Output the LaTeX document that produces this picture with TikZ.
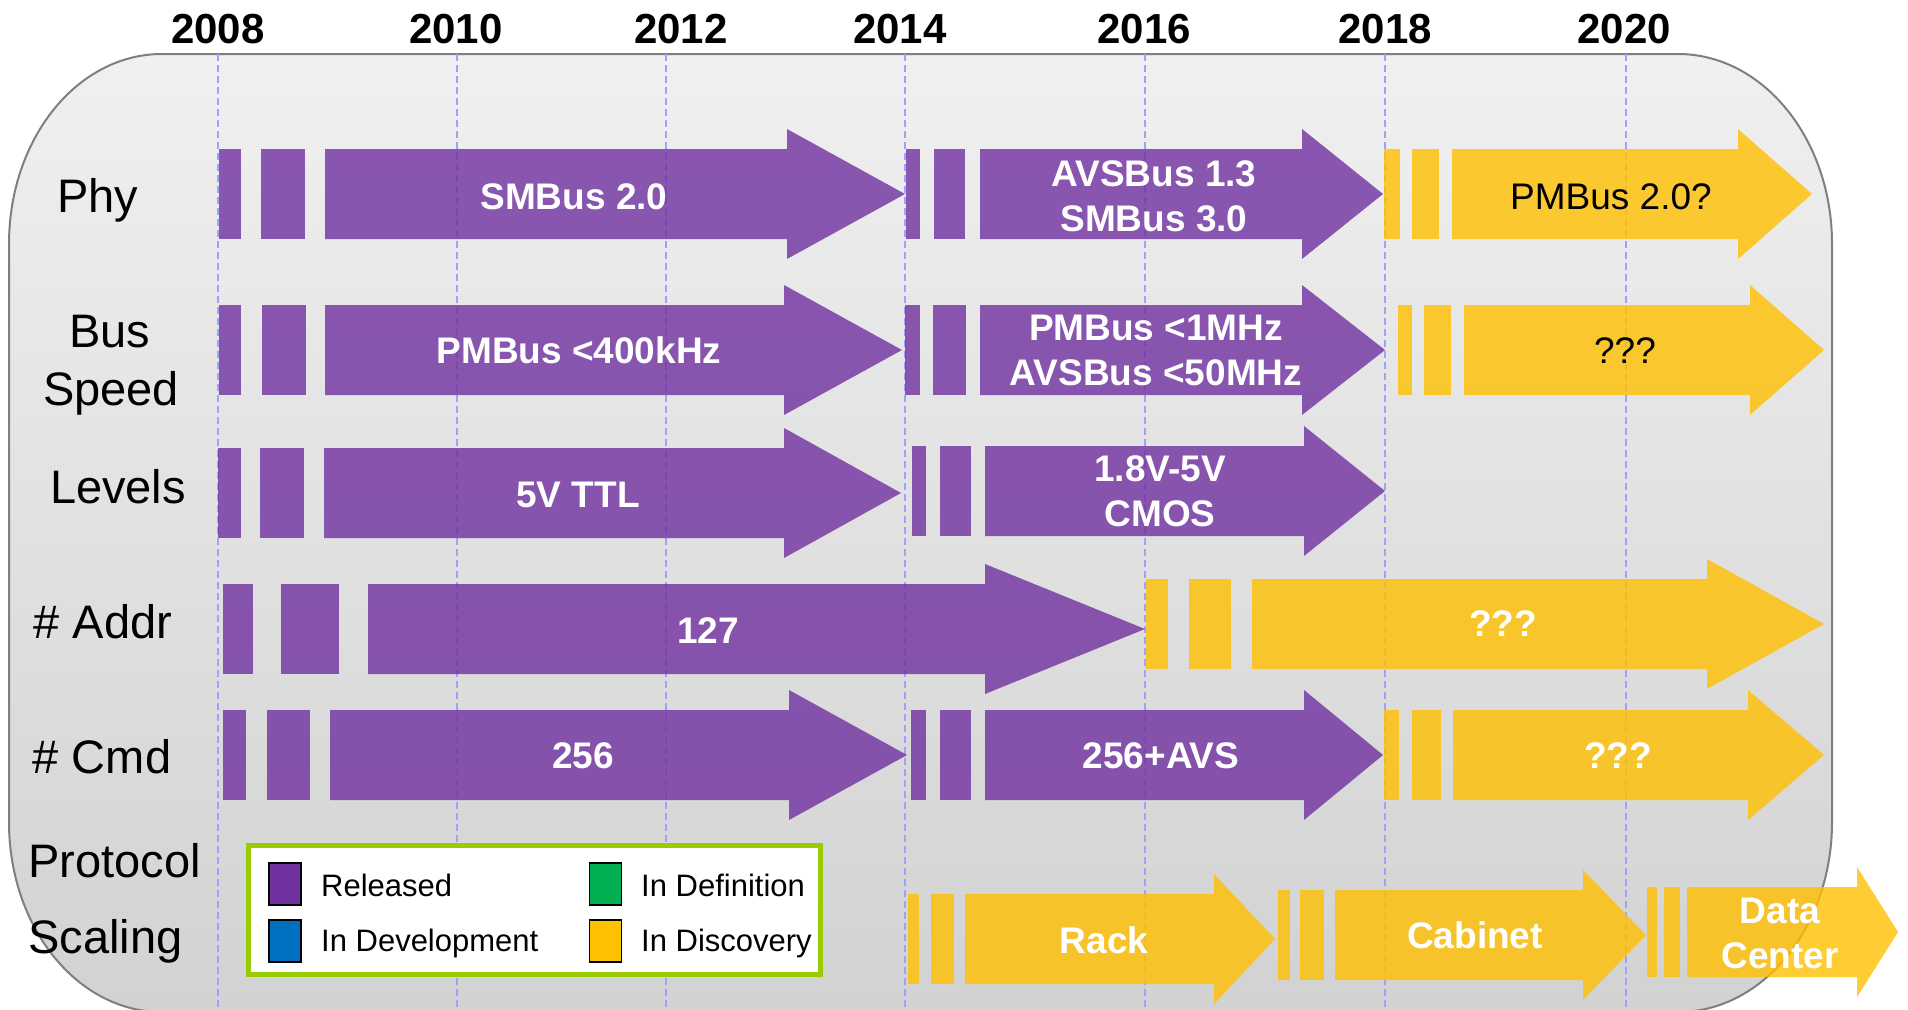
\documentclass[tikz,border=0pt]{standalone}
\usepackage{fontspec}
\setmainfont{Liberation Sans}

\definecolor{relpurple}{HTML}{7030A0}
\definecolor{discyellow}{HTML}{FFC000}
\definecolor{defgreen}{HTML}{00B050}
\definecolor{devblue}{HTML}{0070C0}
\definecolor{legendrim}{HTML}{99CC00}
\definecolor{yearline}{HTML}{A0A0FF}
\definecolor{boxtop}{HTML}{F0F0F0}
\definecolor{boxbottom}{HTML}{D2D2D2}
\definecolor{boxrim}{HTML}{7F7F7F}

\tikzset{
  released/.style={fill=relpurple,fill opacity=0.8},
  discovery/.style={fill=discyellow,fill opacity=0.8},
  yearrule/.style={yearline,line width=1.3pt,dash pattern=on 7pt off 4pt},
  yearlbl/.style={font=\fontsize{42}{50}\selectfont\bfseries,anchor=base,inner sep=0pt},
  rowlbl/.style={font=\fontsize{47}{56}\selectfont,anchor=base,inner sep=0pt},
  bartxt/.style={font=\fontsize{37}{45}\selectfont\bfseries,text=white,inner sep=0pt,align=center},
  plaintxt/.style={font=\fontsize{37}{45}\selectfont,text=black,inner sep=0pt,anchor=base},
  swatch/.style={draw=black,line width=1.5pt,minimum width=32pt,minimum height=42pt,inner sep=0pt},
  legendtxt/.style={font=\fontsize{31}{37}\selectfont,anchor=base west,inner sep=0pt}
}

% style, centre y, bar 1, bar 2, body start, head start, tip
\newcommand{\phasearrow}[9]{%
  \fill[#1] (#3,#2-45) rectangle (#4,#2+45);
  \fill[#1] (#5,#2-45) rectangle (#6,#2+45);
  \fill[#1] (#7,#2-45) -- (#8,#2-45) -- (#8,#2-65) -- (#9,#2)
    -- (#8,#2+65) -- (#8,#2+45) -- (#7,#2+45) -- cycle;
}

\begin{document}
\begin{tikzpicture}[x=1pt,y=-1pt]
  \useasboundingbox (0,0) rectangle (1908,1009);

  % background panel
  \shadedraw[top color=boxtop,bottom color=boxbottom,draw=boxrim,line width=2pt]
    (162,54) -- (1678,54) .. controls (1763,54) and (1832,139) .. (1832,244)
    -- (1832,822) .. controls (1832,927) and (1763,1012) .. (1678,1012)
    -- (162,1012) .. controls (77,1012) and (9,927) .. (9,822)
    -- (9,244) .. controls (9,139) and (77,54) .. (162,54) -- cycle;

  % years
  \foreach \yr/\x/\lx in {2008/218/218,2010/457/456,2012/666/681,2014/905/900,
                          2016/1145/1144,2018/1385/1385,2020/1626/1624} {
    \draw[yearrule] (\x,54) -- (\x,1009);
    \node[yearlbl] (yr\yr) at (\lx,43) {\yr};
  }

  % row labels
  \node[rowlbl] (phy) at (98,212) {Phy};
  \node[rowlbl] (bus) at (110,347) {Bus};
  \node[rowlbl] (speed) at (111,405) {Speed};
  \node[rowlbl] (levels) at (118,503) {Levels};
  \node[rowlbl] (addr) at (103,638) {\# Addr};
  \node[rowlbl] (cmd) at (102,773) {\# Cmd};
  \node[rowlbl,anchor=base west] (protocol) at (28,877) {Protocol};
  \node[rowlbl,anchor=base west] (scaling) at (28,953) {Scaling};

  % Phy
  \phasearrow{released}{194}{219}{241}{261}{305}{325}{787}{905}
  \phasearrow{released}{194}{906}{920}{934}{965}{980}{1302}{1383}
  \phasearrow{discovery}{194}{1384}{1400}{1412}{1439}{1452}{1738}{1812}
  \node[bartxt,anchor=base] (smbustwo) at (574,209) {SMBus 2.0};
  \node[bartxt] (avsbus) at (1154,196) {AVSBus 1.3\\SMBus 3.0};
  \node[plaintxt] (pmbustwo) at (1611,209) {PMBus 2.0?};

  % Bus speed
  \phasearrow{released}{350}{219}{241}{262}{306}{325}{784}{902}
  \phasearrow{released}{350}{905}{920}{933}{966}{980}{1302}{1385}
  \phasearrow{discovery}{350}{1398}{1412}{1424}{1451}{1464}{1750}{1824}
  \node[bartxt,anchor=base] (pmbusslow) at (579,363) {PMBus <400kHz};
  \node[bartxt] (pmbusfast) at (1156,350) {PMBus <1MHz\\AVSBus <50MHz};
  \node[plaintxt] (busnext) at (1625,363) {???};

  % Levels
  \phasearrow{released}{493}{218}{241}{260}{304}{324}{784}{901}
  \phasearrow{released}{491}{912}{926}{940}{971}{985}{1304}{1385}
  \node[bartxt,anchor=base] (ttl) at (578,507) {5V TTL};
  \node[bartxt] (cmos) at (1160,491) {1.8V-5V\\CMOS};

  % Addr
  \phasearrow{released}{629}{223}{253}{281}{339}{368}{985}{1145}
  \phasearrow{discovery}{624}{1146}{1168}{1189}{1231}{1252}{1707}{1824}
  \node[bartxt,anchor=base] (addrnow) at (708,643) {127};
  \node[bartxt,anchor=base] (addrnext) at (1503,636) {???};

  % Cmd
  \phasearrow{released}{755}{223}{246}{267}{310}{330}{789}{907}
  \phasearrow{released}{755}{911}{926}{940}{971}{985}{1304}{1383}
  \phasearrow{discovery}{755}{1384}{1399}{1412}{1441}{1453}{1748}{1824}
  \node[bartxt,anchor=base] (cmdnow) at (583,768) {256};
  \node[bartxt,anchor=base] (cmdavs) at (1161,768) {256+AVS};
  \node[bartxt,anchor=base] (cmdnext) at (1618,768) {???};

  % Protocol scaling
  \phasearrow{discovery}{939}{908}{919}{931}{954}{965}{1214}{1275}
  \phasearrow{discovery}{935}{1278}{1290}{1300}{1324}{1335}{1583}{1646}
  \phasearrow{discovery}{932}{1647}{1657}{1664}{1680}{1687}{1857}{1898}
  \node[bartxt,anchor=base] (rack) at (1104,953) {Rack};
  \node[bartxt,anchor=base] (cabinet) at (1475,948) {Cabinet};
  \node[bartxt] (datactr) at (1780,933) {Data\\Center};

  % legend
  \node[draw=legendrim,line width=5pt,fill=white,minimum width=572pt,
        minimum height=129pt,inner sep=0pt] (legend) at (534.5,910) {};
  \node[swatch,fill=relpurple] (swrel) at (285,884) {};
  \node[swatch,fill=devblue] (swdev) at (285,941) {};
  \node[swatch,fill=defgreen] (swdef) at (605.5,884) {};
  \node[swatch,fill=discyellow] (swdisc) at (605.5,941) {};
  \node[legendtxt] (txtrel) at (321,896) {Released};
  \node[legendtxt] (txtdev) at (321,951) {In Development};
  \node[legendtxt] (txtdef) at (641,896) {In Definition};
  \node[legendtxt] (txtdisc) at (641,951) {In Discovery};
\end{tikzpicture}
\end{document}
